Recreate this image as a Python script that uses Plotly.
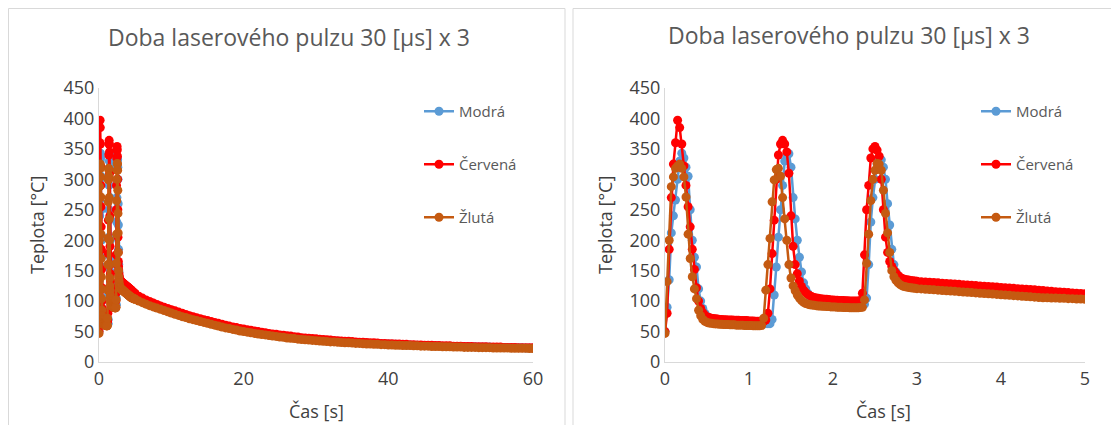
import plotly.graph_objects as go

# ---------------- data ----------------
# fine samples, 0 .. 3.0 s, step 0.025 s
dt_fine = 0.025
modra_fine = [50, 90, 135, 212, 240, 266, 300, 330, 343, 335,
              320, 305, 250, 200, 172, 156, 120, 100, 88, 80,
              75, 72, 70, 68, 67,
              66.5, 66, 66, 65.5, 65.5, 65, 65, 65, 64.5, 64.5, 64.5, 64, 64, 64, 64,
              63.5, 63.5, 63.5, 63.5, 63.5, 63, 63, 63, 63, 63,
              63, 70, 110, 156, 205, 250, 290, 330, 340, 342,
              320, 270, 235, 200, 172, 148, 130, 120, 113, 108,
              104, 101, 99,
              98, 97.5, 97, 96.5, 96, 96, 95.5, 95.5, 95, 95, 94.5, 94.5, 94, 94, 94,
              93.5, 93.5, 93.5, 93, 93, 93, 93,
              95, 105, 160, 230, 270, 300, 325, 333, 332, 320,
              300, 260, 225, 185, 160, 148, 140, 135, 131, 128,
              126.5, 125.5, 125, 124.5, 124, 123.5]
cervena_fine = [50, 80, 185, 270, 325, 360, 397, 385, 358, 322,
                290, 255, 222, 185, 152, 122, 100, 88, 81, 77,
                74, 73, 72, 71.5, 71, 70.5, 70, 70, 69.5, 69.5, 69, 69, 69,
                68.5, 68.5, 68.5, 68, 68, 68, 68, 67.5, 67.5, 67.5, 67, 67, 67, 67, 67,
                69, 80, 120, 178, 233, 300, 340, 358, 364, 358,
                345, 310, 240, 190, 160, 145, 133, 124, 118, 114,
                111, 109, 107, 106, 105,
                104.5, 104, 103.5, 103, 103, 102.5, 102, 102, 101.5, 101.5,
                101, 101, 101, 100.5, 100.5, 100, 100, 100, 100, 100,
                101, 113, 176, 250, 290, 335, 350, 354, 348, 338,
                300, 250, 205, 180, 165, 157, 151, 146, 142, 139,
                137, 136, 135, 134.5, 134, 133.5, 133, 132.5]
zluta_fine = [47, 132, 200, 288, 304, 318, 322, 325, 318, 304,
              271, 210, 170, 140, 120, 104, 85, 76, 70, 67,
              65, 64, 63.5, 63, 62.5, 62.5, 62, 62, 61.5, 61.5, 61.5, 61, 61, 61,
              60.5, 60.5, 60.5, 60.5, 60, 60, 60, 60, 59.5, 59.5, 59.5, 59.5,
              60, 72, 118, 160, 203, 263, 299, 316, 318, 305,
              270, 235, 200, 160, 138, 125, 117, 110, 105, 101,
              98, 96, 95, 94,
              93.5, 93, 92.5, 92, 92, 91.5, 91.5, 91, 91, 90.5, 90.5, 90.5,
              90, 90, 90, 89.5, 89.5, 89.5, 89, 89, 89, 89, 89, 89.5, 90,
              102, 162, 210, 265, 300, 315, 326, 325, 315, 282,
              244, 212, 180, 150, 140, 134, 130, 127, 125, 124,
              123, 122.5, 122, 121.5, 121, 120.5]

# medium samples, 3.05 .. 5.0 s, step 0.05 s
dt_mid = 0.05
modra_mid = [123, 122.5, 122, 121.5, 121, 120.5, 120, 119.5, 119, 118.5,
             118, 117.5, 117, 116.5, 116, 115.5, 115, 114.5, 114, 113.5,
             113, 112.5, 112, 111.5, 111, 110.5, 110, 109.5, 109, 108.5,
             108.5, 108, 108, 107.5, 107.5, 107, 107, 106.5, 106.5, 106]
cervena_mid = [132, 131.5, 131, 130.5, 130, 129.5, 129, 128.5, 128, 127.5,
               127, 126.5, 126, 125.5, 125, 124.5, 124, 123.5, 123, 122.5,
               122, 121.5, 121, 120.5, 120, 119.5, 119, 118.5, 118, 117.5,
               116.5, 116, 115.5, 115, 114.5, 114, 113.5, 113, 112.5, 112]
zluta_mid = [120, 119.5, 119, 118.5, 118, 117.5, 117, 116.5, 116, 115.5,
             115, 114.5, 114, 113.5, 113, 112.5, 112, 111.5, 111, 110.5,
             110, 109.5, 109, 108.5, 108, 107.5, 107, 106.5, 106, 105.5,
             105.5, 105, 105, 104.5, 104.5, 104, 104, 103.5, 103.5, 103]

# coarse samples, 5.5 .. 60 s, step 0.5 s
dt_tail = 0.5
modra_tail = [103, 100.5, 98, 95.5, 93.5, 91, 89, 87, 85, 83,
              81, 79, 77, 75.5, 73.5, 72, 70.5, 69, 67.5, 66,
              64.5, 63, 61.5, 60, 58.5, 57.5, 56, 55, 53.5, 52.5,
              51.5, 50.5, 49.5, 48.5, 47.5, 46.5, 45.5, 44.5, 44, 43,
              42.5, 41.5, 41, 40, 39.5, 39, 38.5, 38, 37.5, 37,
              36.5, 36, 35.5, 35, 34.5, 34, 33.5, 33, 33, 32.5,
              32, 31.5, 31.5, 31, 30.5, 30.5, 30, 30, 29.5, 29.5,
              29, 29, 28.5, 28.5, 28, 28, 27.5, 27.5, 27, 27,
              27, 26.5, 26.5, 26.5, 26, 26, 26, 25.5, 25.5, 25.5,
              25, 25, 25, 25, 24.5, 24.5, 24.5, 24.5, 24, 24,
              24, 24, 24, 23.5, 23.5, 23.5, 23.5, 23, 23, 23]
cervena_tail = [108, 105, 102, 99.5, 97, 94.5, 92, 90, 88, 86,
                84, 82, 80, 78, 76, 74.5, 72.5, 71, 69.5, 68,
                66.5, 65, 63.5, 62, 60.5, 59, 57.5, 56.5, 55, 54,
                53, 52, 51, 50, 49, 48, 47, 46, 45.5, 44.5,
                44, 43, 42.5, 41.5, 41, 40, 39.5, 39, 38.5, 38,
                37.5, 37, 36.5, 36, 35.5, 35, 34.5, 34, 34, 33.5,
                33, 32.5, 32.5, 32, 31.5, 31.5, 31, 30.5, 30.5, 30,
                30, 29.5, 29.5, 29, 29, 28.5, 28.5, 28, 28, 27.5,
                27.5, 27.5, 27, 27, 26.5, 26.5, 26.5, 26, 26, 26,
                25.5, 25.5, 25.5, 25, 25, 25, 25, 24.5, 24.5, 24.5,
                24.5, 24, 24, 24, 24, 23.5, 23.5, 23.5, 23.5, 23.5]
zluta_tail = [100, 97.5, 95, 92.5, 90.5, 88.5, 86.5, 84.5, 82.5, 80.5,
              78.5, 76.5, 74.5, 73, 71, 69.5, 68, 66.5, 65, 63.5,
              62, 60.5, 59, 57.5, 56, 55, 53.5, 52.5, 51, 50,
              49, 48, 47, 46, 45, 44.5, 43.5, 42.5, 42, 41,
              40.5, 39.5, 39, 38.5, 37.5, 37, 36.5, 36, 35.5, 35,
              34.5, 34, 33.5, 33, 33, 32.5, 32, 31.5, 31.5, 31,
              30.5, 30.5, 30, 29.5, 29.5, 29, 29, 28.5, 28.5, 28,
              28, 27.5, 27.5, 27, 27, 27, 26.5, 26.5, 26, 26,
              26, 25.5, 25.5, 25.5, 25, 25, 25, 24.5, 24.5, 24.5,
              24, 24, 24, 24, 23.5, 23.5, 23.5, 23.5, 23, 23,
              23, 23, 23, 22.5, 22.5, 22.5, 22.5, 22.5, 22, 22]

series_names = ["Modrá", "Červená", "Žlutá"]
series_colors = ["#5B9BD5", "#FF0000", "#C55A11"]
title_text = "Doba laserového pulzu 30 [µs] x 3"
x_title = "Čas [s]"
y_title = "Teplota [°C]"

for a in (modra_fine, cervena_fine, zluta_fine):
    assert len(a) == 121, len(a)
for a in (modra_mid, cervena_mid, zluta_mid):
    assert len(a) == 40, len(a)
for a in (modra_tail, cervena_tail, zluta_tail):
    assert len(a) == 110, len(a)

t_fine = [round(i * dt_fine, 4) for i in range(121)]
t_mid = [round(3.0 + (i + 1) * dt_mid, 4) for i in range(40)]
t_tail = [round(5.0 + (i + 1) * dt_tail, 4) for i in range(110)]

full = {
    "Modrá": modra_fine + modra_mid + modra_tail,
    "Červená": cervena_fine + cervena_mid + cervena_tail,
    "Žlutá": zluta_fine + zluta_mid + zluta_tail,
}
t_full = t_fine + t_mid + t_tail
t_short = t_fine + t_mid

# ---------------- figure ----------------
# the page body has an 8px margin, so the figure is placed at (8, 8)
OFF = 8
W, H = 1119 - OFF, 425 - OFF
FONT = "Open Sans"
TXT = "#404040"
fig = go.Figure()

for name, color in zip(series_names, series_colors):
    ys = full[name]
    fig.add_trace(go.Scatter(
        x=t_full, y=ys, name=name, mode="lines+markers",
        line=dict(color=color, width=2.5),
        marker=dict(color=color, size=9),
        xaxis="x", yaxis="y", legend="legend", legendgroup="L" + name))
    fig.add_trace(go.Scatter(
        x=t_short, y=ys[:len(t_short)], name=name, mode="lines+markers",
        line=dict(color=color, width=2.5),
        marker=dict(color=color, size=9),
        xaxis="x2", yaxis="y2", legend="legend2", legendgroup="R" + name))

def px(x):
    return (x - OFF) / W

def py(y):
    return 1 - (y - OFF) / H

axis_common = dict(showgrid=False, zeroline=False, showline=True, automargin=False,
                   linecolor="#D9D9D9", linewidth=1, ticks="",
                   tickfont=dict(family=FONT, size=18, color=TXT))

ydom = [py(362), py(88)]

def txt(text, x, y, size, color, angle=0):
    return dict(text=text, xref="paper", yref="paper", x=px(x), y=py(y),
                xanchor="center", yanchor="middle", showarrow=False, textangle=angle,
                font=dict(family=FONT, size=size, color=color))

leg_common = dict(xanchor="left", yanchor="top",
                  font=dict(family=FONT, size=15, color="#595959"),
                  tracegroupgap=30.5, bgcolor="rgba(0,0,0,0)", itemwidth=30)

fig.update_layout(
    width=W, height=H,
    margin=dict(l=0, r=0, t=0, b=0, pad=0, autoexpand=False),
    paper_bgcolor="white", plot_bgcolor="white",
    showlegend=True,
    xaxis=dict(domain=[px(99), px(533)], range=[0, 60], dtick=20, anchor="y", **axis_common),
    yaxis=dict(domain=ydom, range=[0, 450], dtick=50, anchor="x", **axis_common),
    xaxis2=dict(domain=[px(665), px(1085)], range=[0, 5], dtick=1, anchor="y2", **axis_common),
    yaxis2=dict(domain=ydom, range=[0, 450], dtick=50, anchor="x2", **axis_common),
    legend=dict(x=px(419), y=py(95), **leg_common),
    legend2=dict(x=px(976), y=py(95), **leg_common),
    shapes=[
        dict(type="rect", xref="paper", yref="paper", x0=px(8.5), x1=px(565), y0=py(430), y1=py(8.5),
             line=dict(color="#D9D9D9", width=1), fillcolor="rgba(0,0,0,0)", layer="below"),
        dict(type="rect", xref="paper", yref="paper", x0=px(573), x1=px(1117), y0=py(430), y1=py(8.5),
             line=dict(color="#D9D9D9", width=1), fillcolor="rgba(0,0,0,0)", layer="below"),
    ],
    annotations=[
        txt(title_text, 289, 37, 23, "#595959"),
        txt(title_text, 849, 35, 23, "#595959"),
        txt(y_title, 37, 225, 18, TXT, -90),
        txt(y_title, 605, 225, 18, TXT, -90),
        txt(x_title, 316, 411, 18, TXT),
        txt(x_title, 883, 411, 18, TXT),
    ],
)

fig.write_html("out.html")
